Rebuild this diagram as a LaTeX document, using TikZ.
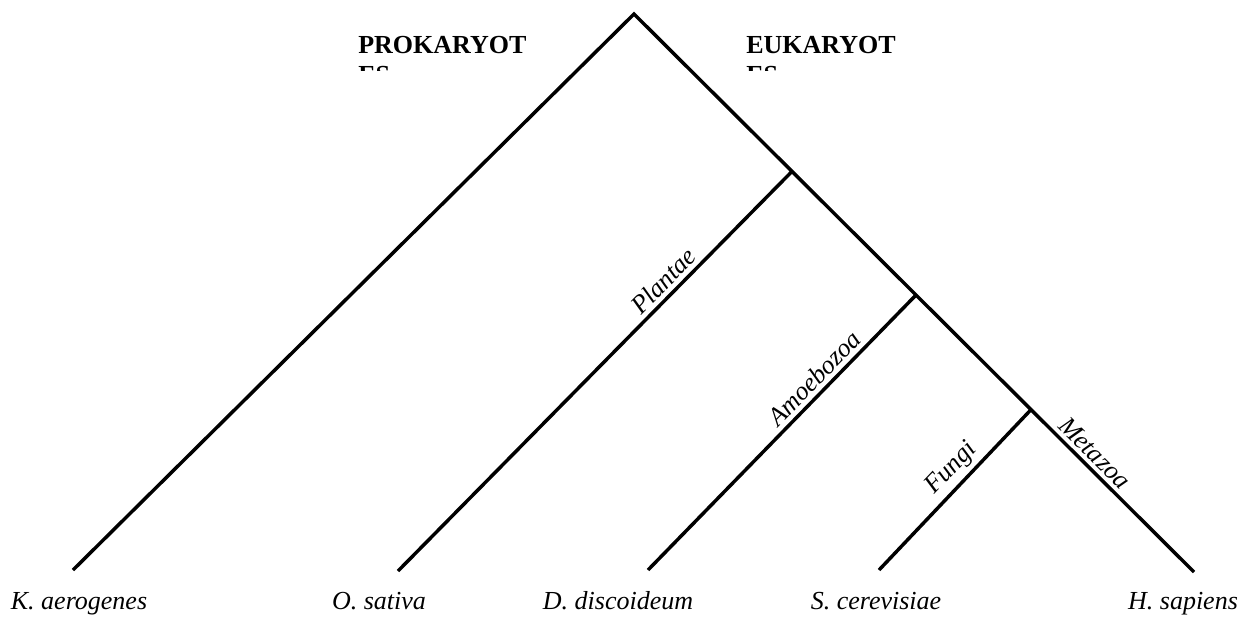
\documentclass[tikz,border=0pt]{standalone}
\usepackage{fontspec}
\setmainfont{Liberation Serif}
\begin{document}
\begin{tikzpicture}[x=0.75pt,y=-0.75pt,
  branch/.style={line width=2.6pt},
  leaf/.style={font=\fontsize{19.5}{22}\selectfont\itshape, anchor=base, inner sep=0pt},
  clade/.style={font=\fontsize{19.5}{22}\selectfont\itshape, sloped, above, inner sep=3pt},
  domainhead/.style={font=\fontsize{19.5}{23}\selectfont\bfseries, anchor=base west, inner sep=0pt}]
\useasboundingbox (0,0) rectangle (1246,619);
% junctions and tips
\coordinate (root) at (634,14);
\coordinate (plj) at (792,171.4);
\coordinate (amj) at (916,295);
\coordinate (fuj) at (1031,409.6);
\coordinate (kae) at (73,570);
\coordinate (osa) at (398,571);
\coordinate (ddi) at (648,570);
\coordinate (sce) at (879,570);
\coordinate (hsa) at (1194,572);
% branches
\draw[branch] (kae) -- (root) -- (plj) -- (amj) -- (fuj) -- node[clade,pos=0.33]{Metazoa} (hsa);
\draw[branch] (plj) -- node[clade,pos=0.30]{Plantae} (osa);
\draw[branch] (amj) -- node[clade,pos=0.34]{Amoebozoa} (ddi);
\draw[branch] (fuj) -- node[clade,pos=0.44]{Fungi} (sce);
% leaf labels
\node[leaf] (lkae) at (79,609) {K. aerogenes};
\node[leaf] (losa) at (379,609) {O. sativa};
\node[leaf] (lddi) at (618,609) {D. discoideum};
\node[leaf] (lsce) at (876,609) {S. cerevisiae};
\node[leaf] (lhsa) at (1183,609) {H. sapiens};
% clipped domain headers
\begin{scope}
\clip (340,20) rectangle (1000,70);
\node[domainhead] (pro1) at (358,53) {PROKARYOT};
\node[domainhead] (pro2) at (358,83) {ES};
\node[domainhead] (euk1) at (746,53) {EUKARYOT};
\node[domainhead] (euk2) at (746,83) {ES};
\end{scope}
\end{tikzpicture}
\end{document}
